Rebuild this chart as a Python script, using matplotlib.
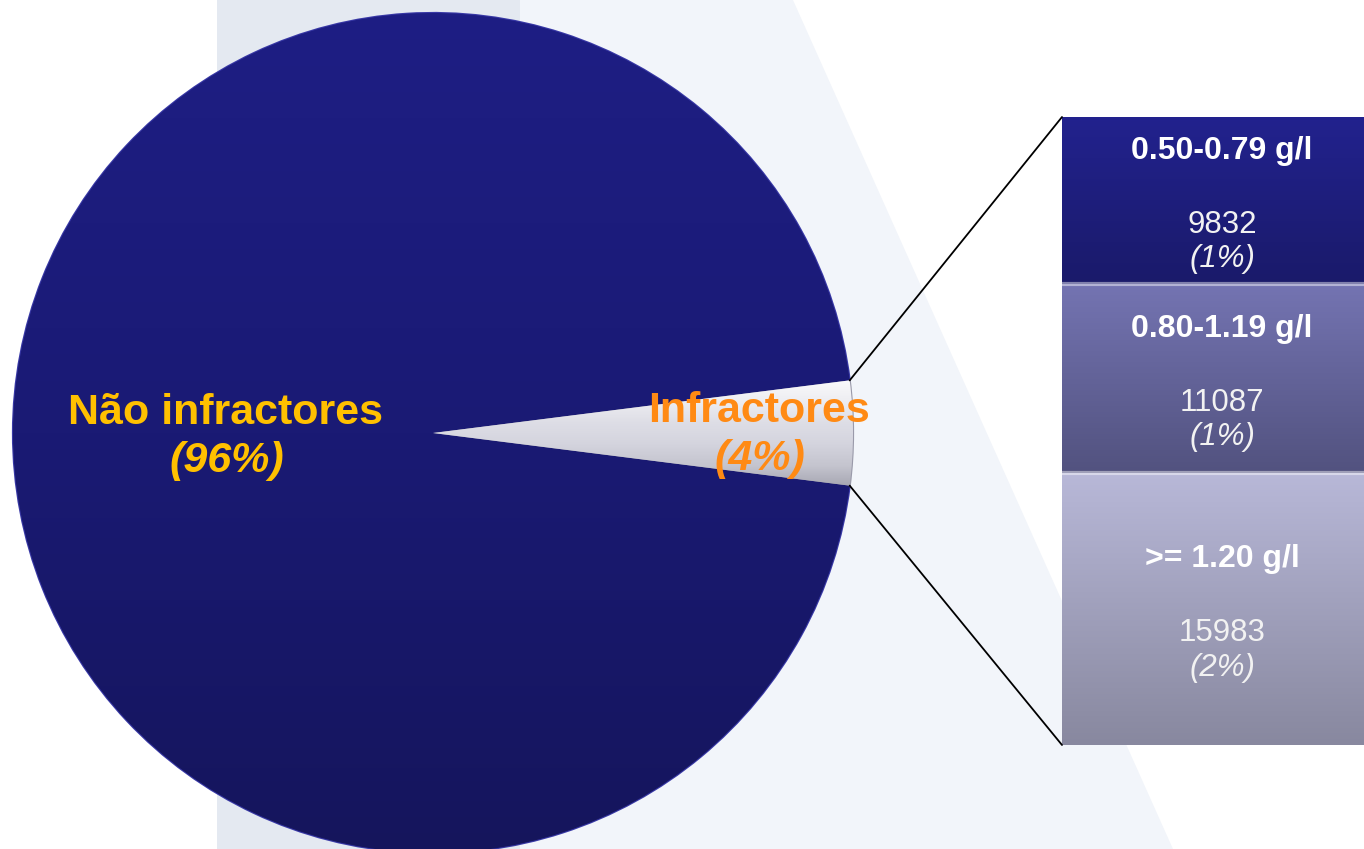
import numpy as np
import matplotlib.pyplot as plt
from matplotlib.colors import LinearSegmentedColormap
from matplotlib.patches import Polygon, ConnectionPatch

plt.rcParams['font.family'] = ['Liberation Sans', 'DejaVu Sans']

# data
groups = ['Não infractores', 'Infractores']
group_pct = [96, 4]
group_labels = ['(96%)', '(4%)']
levels = ['0.50-0.79 g/l', '0.80-1.19 g/l', '>= 1.20 g/l']
level_counts = [9832, 11087, 15983]
level_pct = ['(1%)', '(1%)', '(2%)']

W, H = 1364, 849
fig = plt.figure(figsize=(W / 100, H / 100), dpi=100)
fig.patch.set_facecolor('white')


def fx(px):
    return px / W


def fy(py):
    return 1 - py / H


# light background shapes (behind the axes)
fig.patches.append(Polygon([(fx(217), 0), (fx(520), 0), (fx(520), 1), (fx(217), 1)],
                           closed=True, transform=fig.transFigure,
                           facecolor='#e4e9f1', edgecolor='none', zorder=-5))
fig.patches.append(Polygon([(fx(520), 1), (fx(793), 1), (fx(1173), 0), (fx(520), 0)],
                           closed=True, transform=fig.transFigure,
                           facecolor='#f2f5fa', edgecolor='none', zorder=-5))

# pie
ax_pie = fig.add_axes([fx(13), fy(853), 840 / W, 840 / H])
ax_pie.patch.set_visible(False)
half = group_pct[1] / 100 * 180
wedges, _ = ax_pie.pie(group_pct, colors=['#1b1b7a', '#d4d4de'], startangle=half,
                       counterclock=True, radius=1,
                       wedgeprops=dict(linewidth=1.6, edgecolor='#3838a6'))
wedges[1].set_edgecolor('#9a9aaa')

navy = LinearSegmentedColormap.from_list('navy', ['#15155c', '#1a1a74', '#1e1e84'])
grad = np.linspace(0, 1, 256).reshape(-1, 1)
im = ax_pie.imshow(grad, extent=(-1, 1, -1, 1), origin='lower', cmap=navy,
                   aspect='auto', zorder=1.5)
im.set_clip_path(wedges[0])
grey = LinearSegmentedColormap.from_list(
    'grey', ['#a4a4b0', '#c4c4ce', '#d4d4de', '#dedee6', '#eeeef2', '#fafafc'])
im2 = ax_pie.imshow(grad, extent=(0, 1, -0.13, 0.13), origin='lower', cmap=grey,
                    aspect='auto', zorder=1.5)
im2.set_clip_path(wedges[1])

ax_pie.set_xlim(-1, 1)
ax_pie.set_ylim(-1, 1)
ax_pie.set_aspect('auto')
ax_pie.axis('off')

# pie labels
ax_pie.text(-0.495, 0.021, groups[0], ha='center', va='baseline', fontsize=31,
            fontweight='bold', color='#ffc000', zorder=5)
ax_pie.text(-0.49, -0.093, group_labels[0], ha='center', va='baseline', fontsize=31,
            fontweight='bold', fontstyle='italic', color='#ffc000', zorder=5)
ax_pie.text(0.776, 0.026, groups[1], ha='center', va='baseline', fontsize=31,
            fontweight='bold', color='#ff8a14', zorder=5)
ax_pie.text(0.779, -0.088, group_labels[1], ha='center', va='baseline', fontsize=31,
            fontweight='bold', fontstyle='italic', color='#ff8a14', zorder=5)

# stacked bar
ax_bar = fig.add_axes([fx(1062), fy(745), 320 / W, 628 / H])
ax_bar.patch.set_visible(False)
total = sum(level_counts)
bottoms = np.cumsum([0] + level_counts[:-1])
seg_cols = [('#1a1a6a', '#22228e'), ('#52527f', '#7474b2'), ('#88889f', '#b8b8d8')]
bars = ax_bar.bar([0] * len(levels), level_counts, bottom=bottoms, width=1,
                  color=[c[1] for c in seg_cols], linewidth=0)
for bar, b, h, cols in zip(bars, bottoms, level_counts, seg_cols):
    cm = LinearSegmentedColormap.from_list('seg', list(cols))
    g = ax_bar.imshow(grad, extent=(-0.5, 0.5, b + h, b), origin='lower', cmap=cm,
                      aspect='auto', zorder=1.5)
    g.set_clip_path(bar)
ax_bar.hlines(bottoms[1:], -0.5, 0.5, color='white', lw=3, alpha=0.45, zorder=2)
ax_bar.set_xlim(-0.5, 0.5)
ax_bar.set_ylim(total, 0)
ax_bar.axis('off')

for name, b, h, cnt, pct in zip(levels, bottoms, level_counts, level_counts, level_pct):
    mid = b + h / 2
    ax_bar.annotate(name, xy=(0, mid), xytext=(0, 30), textcoords='offset points',
                    ha='center', va='baseline', fontsize=23, fontweight='bold',
                    color='white', zorder=5)
    ax_bar.annotate(str(cnt), xy=(0, mid), xytext=(0, -23), textcoords='offset points',
                    ha='center', va='baseline', fontsize=22.5, color='#f2f2f2', zorder=5)
    ax_bar.annotate(pct, xy=(0, mid), xytext=(0, -48), textcoords='offset points',
                    ha='center', va='baseline', fontsize=22.5, fontstyle='italic',
                    color='#f2f2f2', zorder=5)

# connector lines
ang = np.deg2rad(half)
for sgn, yb in [(1, 0), (-1, total)]:
    con = ConnectionPatch(xyA=(np.cos(ang), sgn * np.sin(ang)), coordsA=ax_pie.transData,
                          xyB=(-0.5, yb), coordsB=ax_bar.transData,
                          color='black', lw=1.3)
    fig.add_artist(con)

fig.savefig('out.png', dpi=100)
